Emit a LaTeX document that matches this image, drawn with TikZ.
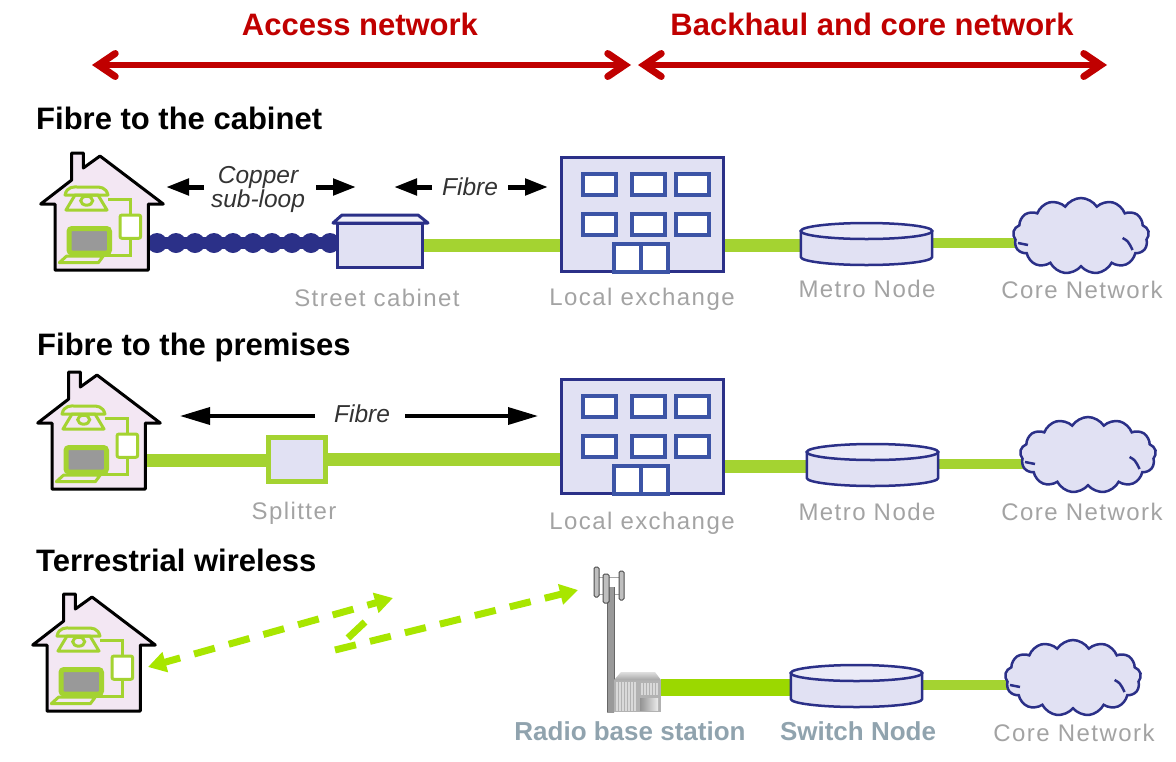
\documentclass[tikz,border=0pt]{standalone}
\usepackage{fontspec}
\setmainfont{Liberation Sans}
\newfontfamily\labelfont[LetterSpace=6]{Liberation Sans}
\usetikzlibrary{arrows.meta,shapes.symbols,backgrounds}

\definecolor{navy}{HTML}{2B3088}
\definecolor{midblue}{HTML}{3C54A6}
\definecolor{lavender}{HTML}{E1E1F3}
\definecolor{housepink}{HTML}{F3E7F3}
\definecolor{fibregreen}{HTML}{A4D331}
\definecolor{radiogreen}{HTML}{9BD800}
\definecolor{dashgreen}{HTML}{A8E600}
\definecolor{netred}{HTML}{C00000}
\definecolor{labelgrey}{HTML}{A3A3A3}
\definecolor{boldgrey}{HTML}{90A3AE}

\tikzset{
    heading/.style={font=\bfseries\fontsize{31}{35}\selectfont, anchor=west, inner sep=0pt},
    netlabel/.style={font=\bfseries\fontsize{31}{35}\selectfont, text=netred, inner sep=0pt},
    graylabel/.style={font=\labelfont\fontsize{24}{28}\selectfont, text=labelgrey, inner sep=0pt},
    boldlabel/.style={font=\bfseries\fontsize{26}{30}\selectfont, text=boldgrey, inner sep=0pt},
    notelabel/.style={font=\itshape\fontsize{24.5}{24}\selectfont, text=black!80, inner sep=0pt, align=center},
    redtip/.tip={Straight Barb[length=17pt, width=23pt, line width=7pt, line cap=round, line join=miter]},
    redarrow/.style={draw=netred, line width=6pt, redtip-redtip},
    blackarrow/.style={draw=black, line width=5pt, -{Triangle[length=23pt,width=16pt]}},
    longarrow/.style={draw=black, line width=3.5pt, -{Triangle[length=30pt,width=17pt]}},
    fibre/.style={draw=fibregreen, line width=13pt},
    thinfibre/.style={draw=fibregreen, line width=9.5pt},
    radiolink/.style={draw=dashgreen, line width=7pt, dash pattern=on 21.5pt off 14.5pt},
    radiotip/.style={-{Triangle[length=18pt,width=20pt]}},
    copper/.style={draw=navy, line width=12pt},
    cabinetbox/.style={draw=navy, line width=3pt, fill=lavender, minimum width=85pt, minimum height=44pt, inner sep=0pt},
    splitterbox/.style={draw=fibregreen, line width=5pt, fill=lavender, minimum width=57pt, minimum height=44pt, inner sep=0pt},
    cloudbox/.style={cloud, cloud puffs=13, cloud puff arc=115, aspect=1.75, draw=navy, line width=2.5pt, fill=lavender, minimum width=136pt, minimum height=76pt, inner sep=0pt},
    house/.pic={
        \draw [line width=3pt, line join=round, fill=housepink] ( 31.7, 0 ) -- ( 43.3, 0 ) -- ( 43.3, 15 ) -- ( 60, 3 ) -- ( 123.3, 51 ) -- ( 108.3, 51 ) -- ( 108.3, 117 ) -- ( 15, 117 ) -- ( 15, 51 ) -- ( 0.7, 51 ) -- ( 31.7, 27 ) -- cycle;
        \coordinate (-port) at ( 108.3, 88 );
        % телефон
        \draw [fibregreen, line width=3pt, line join=round] ( 25, 42 ) .. controls ( 27, 33 ) and ( 34, 34 ) .. ( 38, 34 ) -- ( 55, 34 ) .. controls ( 60, 34 ) and ( 66, 34 ) .. ( 68, 42 ) -- ( 57, 42 ) -- ( 36, 42 ) -- cycle;
        \draw [fibregreen, line width=3pt, line join=round] ( 35, 42 ) -- ( 58, 42 ) -- ( 67, 57 ) -- ( 26, 57 ) -- cycle;
        \draw [fibregreen, line width=3pt, fill=housepink] ( 46.7, 47.7 ) ellipse [x radius=6pt, y radius=4.5pt];
        % провода и розетка
        \draw [fibregreen, line width=3pt] ( 68, 46.3 ) -- ( 90, 46.3 ) -- ( 90, 102 ) -- ( 56, 102 );
        \draw [fibregreen, line width=3pt, fill=white, rounded corners=2pt] ( 80, 62 ) rectangle ( 100.7, 85.3 );
        % ноутбук
        \draw [fibregreen, line width=5pt, fill=gray!80, rounded corners=3pt] ( 29, 75.5 ) rectangle ( 69.5, 100 );
        \draw [fibregreen, line width=3pt, line join=round] ( 26.7, 103 ) -- ( 63.3, 103 ) -- ( 58.3, 109.7 ) -- ( 19.3, 109.7 ) -- cycle;
    },
    exchange/.pic={
        \node (-body) [draw=navy, line width=3.5pt, fill=lavender, minimum width=162pt, minimum height=114pt, inner sep=0pt] at ( 82.5, 58.5 ) {};
        \foreach \wx in { 23, 72, 115.5 } {
            \draw [midblue, line width=4pt, fill=white] ( \wx, 18 ) rectangle ++( 33, 21 );
            \draw [midblue, line width=4pt, fill=white] ( \wx, 58 ) rectangle ++( 33, 21 );
        }
        \draw [midblue, line width=4pt, fill=white] ( 54, 88 ) rectangle ( 108, 116 );
        \draw [midblue, line width=4pt] ( 81, 88 ) -- ( 81, 116 );
    },
    disk/.pic={
        \draw [navy, line width=2.5pt, fill=lavender] ( -65.7, 0 ) -- ( -65.7, 26 ) .. controls ( -65.7, 30.4 ) and ( -36, 34 ) .. ( 0, 34 ) .. controls ( 36, 34 ) and ( 65.7, 30.4 ) .. ( 65.7, 26 ) -- ( 65.7, 0 ) -- cycle;
        \draw [navy, line width=2.5pt, fill=lavender!70!white] ( 0, 0 ) ellipse [x radius=65.7pt, y radius=8pt];
        \coordinate (-west) at ( -65.7, 14 );
        \coordinate (-east) at ( 65.7, 12 );
    },
    corecloud/.pic={
        \node (-body) [cloudbox] at ( 0, 0 ) {};
        \draw [navy, line width=2.5pt] ( 41.6, 2 ) .. controls ( 47, 5 ) .. ( 51.6, 14 );
        \draw [navy, line width=2.5pt] ( -63, 7 ) -- ( -53, 9 );
    },
}

\begin{document}
\begin{tikzpicture}[x=1pt, y=-1pt]
    \useasboundingbox ( 0, 0 ) rectangle ( 1176, 761 );

% заголовки
    \node (access) [netlabel] at ( 360, 24.5 ) {Access network};
    \node (backhaul) [netlabel] at ( 872, 24.5 ) {Backhaul and core network};
    \coordinate (accessl) at ( 92, 65 );
    \coordinate (accessr) at ( 631, 65 );
    \coordinate (corel) at ( 638, 65 );
    \coordinate (corer) at ( 1107, 65 );
    \draw [redarrow] (accessl) -- (accessr);
    \draw [redarrow] (corel) -- (corer);

% первый ряд
    \node (titleA) [heading] at ( 36, 118.5 ) {Fibre to the cabinet};
    \pic (houseA) at ( 40, 153 ) {house};
    \node (cabinetA) [cabinetbox] at ( 380, 245 ) {};
    \draw [navy, line width=3pt, line join=round, fill=lavender!50!white] ( 333, 223 ) -- ( 342, 215 ) -- ( 418, 215 ) -- ( 428, 223 ) -- cycle;
    \pic (exchangeA) at ( 560, 156 ) {exchange};
    \pic (diskA) at ( 866.5, 231 ) {disk};
    \pic (cloudA) at ( 1081, 236 ) {corecloud};

    \begin{pgfonlayer}{background}
        \draw [copper] ([yshift=-2pt]houseA-port) -- ([yshift=-2pt]houseA-port -| cabinetA.west);
        \foreach \bx in { 157, 176, 195, 214, 233, 253, 272, 292, 311, 330 } {
            \fill [navy] ( \bx, 243 ) circle [radius=10pt];
        }
        \draw [fibre] (cabinetA.east) -- (cabinetA.east -| exchangeA-body.center);
        \draw [fibre] (diskA-west) -- (diskA-west -| exchangeA-body.center);
        \draw [thinfibre] (diskA-east) -- (diskA-east -| cloudA-body.center);
    \end{pgfonlayer}

    \node (copperlabel) [notelabel] at ( 258, 189.5 ) {Copper\\sub-loop};
    \node (fibrelabelA) [notelabel] at ( 470, 187 ) {Fibre};
    \coordinate (copperl) at ( 204, 187 );
    \coordinate (copperlend) at ( 166, 187 );
    \coordinate (copperr) at ( 316, 187 );
    \coordinate (copperrend) at ( 356, 187 );
    \coordinate (fibrel) at ( 432, 187 );
    \coordinate (fibrelend) at ( 394, 187 );
    \coordinate (fibrer) at ( 508, 187 );
    \coordinate (fibrerend) at ( 548, 187 );
    \draw [blackarrow] (copperl) -- (copperlend);
    \draw [blackarrow] (copperr) -- (copperrend);
    \draw [blackarrow] (fibrel) -- (fibrelend);
    \draw [blackarrow] (fibrer) -- (fibrerend);

    \node (cabinetlabel) [graylabel] at ( 377, 298 ) {Street cabinet};
    \node (exchangelabelA) [graylabel] at ( 642, 299 ) {Local exchange};
    \node (metrolabelA) [graylabel] at ( 867, 289 ) {Metro Node};
    \node (corelabelA) [graylabel] at ( 1082, 290 ) {Core Network};

% второй ряд
    \node (titleB) [heading] at ( 37, 347 ) {Fibre to the premises};
    \pic (houseB) at ( 37, 372 ) {house};
    \node (splitter) [splitterbox] at ( 297, 459 ) {};
    \pic (exchangeB) at ( 560, 378 ) {exchange};
    \pic (diskB) at ( 872.5, 452 ) {disk};
    \pic (cloudB) at ( 1088, 455 ) {corecloud};

    \begin{pgfonlayer}{background}
        \draw [fibre] (houseB-port) -- (houseB-port -| splitter.west);
        \draw [fibre] (splitter.east) -- (splitter.east -| exchangeB-body.center);
        \draw [fibre] (diskB-west) -- (diskB-west -| exchangeB-body.center);
        \draw [thinfibre] (diskB-east) -- (diskB-east -| cloudB-body.center);
    \end{pgfonlayer}

    \node (fibrelabelB) [notelabel] at ( 362, 414 ) {Fibre};
    \coordinate (longl) at ( 315, 416 );
    \coordinate (longlend) at ( 180, 416 );
    \coordinate (longr) at ( 405, 416 );
    \coordinate (longrend) at ( 538, 416 );
    \draw [longarrow] (longl) -- (longlend);
    \draw [longarrow] (longr) -- (longrend);

    \node (splitterlabel) [graylabel] at ( 294, 513 ) {Splitter};
    \node (exchangelabelB) [graylabel] at ( 642, 523 ) {Local exchange};
    \node (metrolabelB) [graylabel] at ( 867, 512 ) {Metro Node};
    \node (corelabelB) [graylabel] at ( 1082, 512 ) {Core Network};

% третий ряд
    \node (titleC) [heading] at ( 36, 560 ) {Terrestrial wireless};
    \pic (houseC) at ( 32, 594 ) {house};

    % мачта
    \draw [gray!70, line width=0.6pt] ( 598, 577 ) -- ( 620, 577 ) ( 598, 594 ) -- ( 620, 594 );
    \shade [left color=gray!80, middle color=white, right color=gray!80] ( 607, 587 ) rectangle ( 614, 712 );
    \draw [black!60, line width=0.8pt] ( 607, 587 ) -- ( 607, 712 ) ( 614, 587 ) -- ( 614, 712 );
    \draw [black!70, fill=gray!50, line width=1pt, rounded corners=1.5pt] ( 594, 567 ) rectangle ( 599, 597 );
    \draw [black!70, fill=gray!50, line width=1pt, rounded corners=1.5pt] ( 603, 574 ) rectangle ( 609, 603 );
    \draw [black!70, fill=gray!50, line width=1pt, rounded corners=1.5pt] ( 619, 571 ) rectangle ( 624, 600 );

    % будка
    \node (hut) [fill=gray!60, minimum width=47pt, minimum height=32pt, inner sep=0pt] at ( 637.5, 696 ) {};
    \shade [top color=gray!25, bottom color=gray!70] ( 614, 680 ) -- ( 621, 672 ) -- ( 655, 672 ) -- ( 661, 680 ) -- cycle;
    \foreach \sx in { 617, 620, ..., 635 } {
        \draw [gray!30, line width=1.2pt] ( \sx, 682 ) -- ( \sx, 711 );
    }
    \foreach \sx in { 642, 645, ..., 657 } {
        \draw [gray!30, line width=1.2pt] ( \sx, 683 ) -- ( \sx, 695 );
    }
    \shade [left color=gray!85, right color=gray!15] ( 640, 698 ) rectangle ( 658, 710 );

    \pic (diskC) at ( 856.5, 673 ) {disk};
    \pic (cloudC) at ( 1073, 678 ) {corecloud};

    \begin{pgfonlayer}{background}
        \draw [draw=radiogreen, line width=17pt] (hut.east |- diskC-west) -- (diskC-west);
        \draw [thinfibre] (diskC-east) -- (diskC-east -| cloudC-body.center);
    \end{pgfonlayer}

    % радиолиния
    \coordinate (radiohouse) at ( 148, 667 );
    \coordinate (radioup) at ( 393, 598 );
    \coordinate (radiojoga) at ( 365, 622 );
    \coordinate (radiojogb) at ( 348, 638 );
    \coordinate (radiolow) at ( 335, 650 );
    \coordinate (radiomast) at ( 578, 590 );
    \draw [radiolink, dash phase=5pt, {Triangle[length=18pt,width=20pt]}-{Triangle[length=18pt,width=20pt]}] (radiohouse) -- (radioup);
    \draw [draw=dashgreen, line width=7pt] (radiojoga) -- (radiojogb);
    \draw [radiolink, radiotip] (radiolow) -- (radiomast);

    \node (radiolabel) [boldlabel] at ( 630, 731 ) {Radio base station};
    \node (switchlabel) [boldlabel] at ( 858, 731 ) {Switch Node};
    \node (corelabelC) [graylabel] at ( 1074, 733 ) {Core Network};
\end{tikzpicture}
\end{document}
